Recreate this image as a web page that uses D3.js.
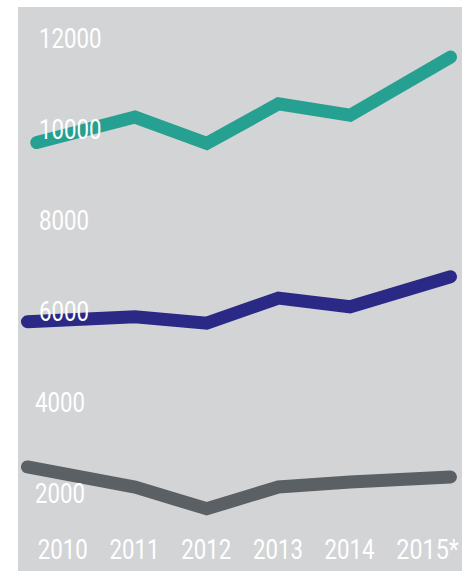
<!DOCTYPE html>
<html>
<head>
<meta charset="utf-8">
<script src="https://cdn.jsdelivr.net/npm/d3@7"></script>
<style>
  body { margin: 0; background: #fff; }
  svg { display: block; }
</style>
</head>
<body>
<svg id="chart"></svg>
<script>
// values
var years = [2010, 2011, 2012, 2013, 2014, 2015]
var yearLabels = ["2010", "2011", "2012", "2013", "2014", "2015*"]
var yTicks = [2000, 4000, 6000, 8000, 10000, 12000]

// where each line's points sit along the year axis (ends run past the labels)
var lineYears = [2009.5, 2011, 2012, 2013, 2014, 2015.4]
var tealYears = [2009.63, 2011, 2012, 2013, 2014, 2015.4]

var tealValues = [9900, 10460, 9880, 10750, 10500, 11780]
var navyValues = [5960, 6070, 5930, 6480, 6290, 6950]
var greyValues = [2770, 2330, 1850, 2330, 2440, 2550]

var series = [
  {name: "grey", xs: lineYears, values: greyValues, color: "#5b6064"},
  {name: "navy", xs: lineYears, values: navyValues, color: "#2a2a86"},
  {name: "teal", xs: tealYears, values: tealValues, color: "#26a090"}
]

var screen = {width: 471, height: 571}

var svg = d3.select("#chart")
  .attr("width", screen.width)
  .attr("height", screen.height)

// grey panel
svg.append("rect")
  .attr("x", 18)
  .attr("y", 7)
  .attr("width", 444)
  .attr("height", screen.height - 7)
  .attr("fill", "#d3d4d6")

var xScale = d3.scaleLinear()
  .domain([2010, 2015])
  .range([63.3, 421.8])

var yScale = d3.scaleLinear()
  .domain([2000, 12000])
  .range([502, 47])

var line = d3.line()
  .x(function(d){ return xScale(d.x) })
  .y(function(d){ return yScale(d.v) })

svg.selectAll("path.series")
  .data(series)
  .enter()
  .append("path")
  .attr("class", "series")
  .attr("d", function(s){
    return line(s.values.map(function(v, i){ return {x: s.xs[i], v: v} }))
  })
  .attr("fill", "none")
  .attr("stroke", function(s){ return s.color })
  .attr("stroke-width", 13)
  .attr("stroke-linecap", "round")
  .attr("stroke-linejoin", "miter")

// condensed look: squeeze each label to ~12.5px a character
var styleLabel = function(sel){
  sel.attr("fill", "#fff")
    .style("font-family", "Roboto, sans-serif")
    .style("font-weight", 400)
    .style("font-size", "27px")
    .attr("lengthAdjust", "spacingAndGlyphs")
    .attr("textLength", function(){ return this.textContent.length * 12.5 })
}

// y labels sit inside the panel, baseline on the value
var yAxis = d3.axisLeft(yScale)
  .tickValues(yTicks)
  .tickSize(0)
  .tickFormat(d3.format("d"))

var gy = svg.append("g").call(yAxis)
gy.select(".domain").remove()
gy.selectAll("text")
  .attr("x", function(d){ return d < 5000 ? 35 : 39 })
  .attr("dy", 0)
  .attr("text-anchor", "start")
  .call(styleLabel)

// year labels along the bottom
var xAxis = d3.axisBottom(xScale)
  .tickValues(years)
  .tickSize(0)
  .tickFormat(function(d, i){ return yearLabels[i] })

var gx = svg.append("g")
  .attr("transform", "translate(0,559)")
  .call(xAxis)
gx.select(".domain").remove()
gx.selectAll("text")
  .attr("y", 0)
  .attr("dy", 0)
  .attr("x", -26)
  .attr("text-anchor", "start")
  .call(styleLabel)
</script>
</body>
</html>
